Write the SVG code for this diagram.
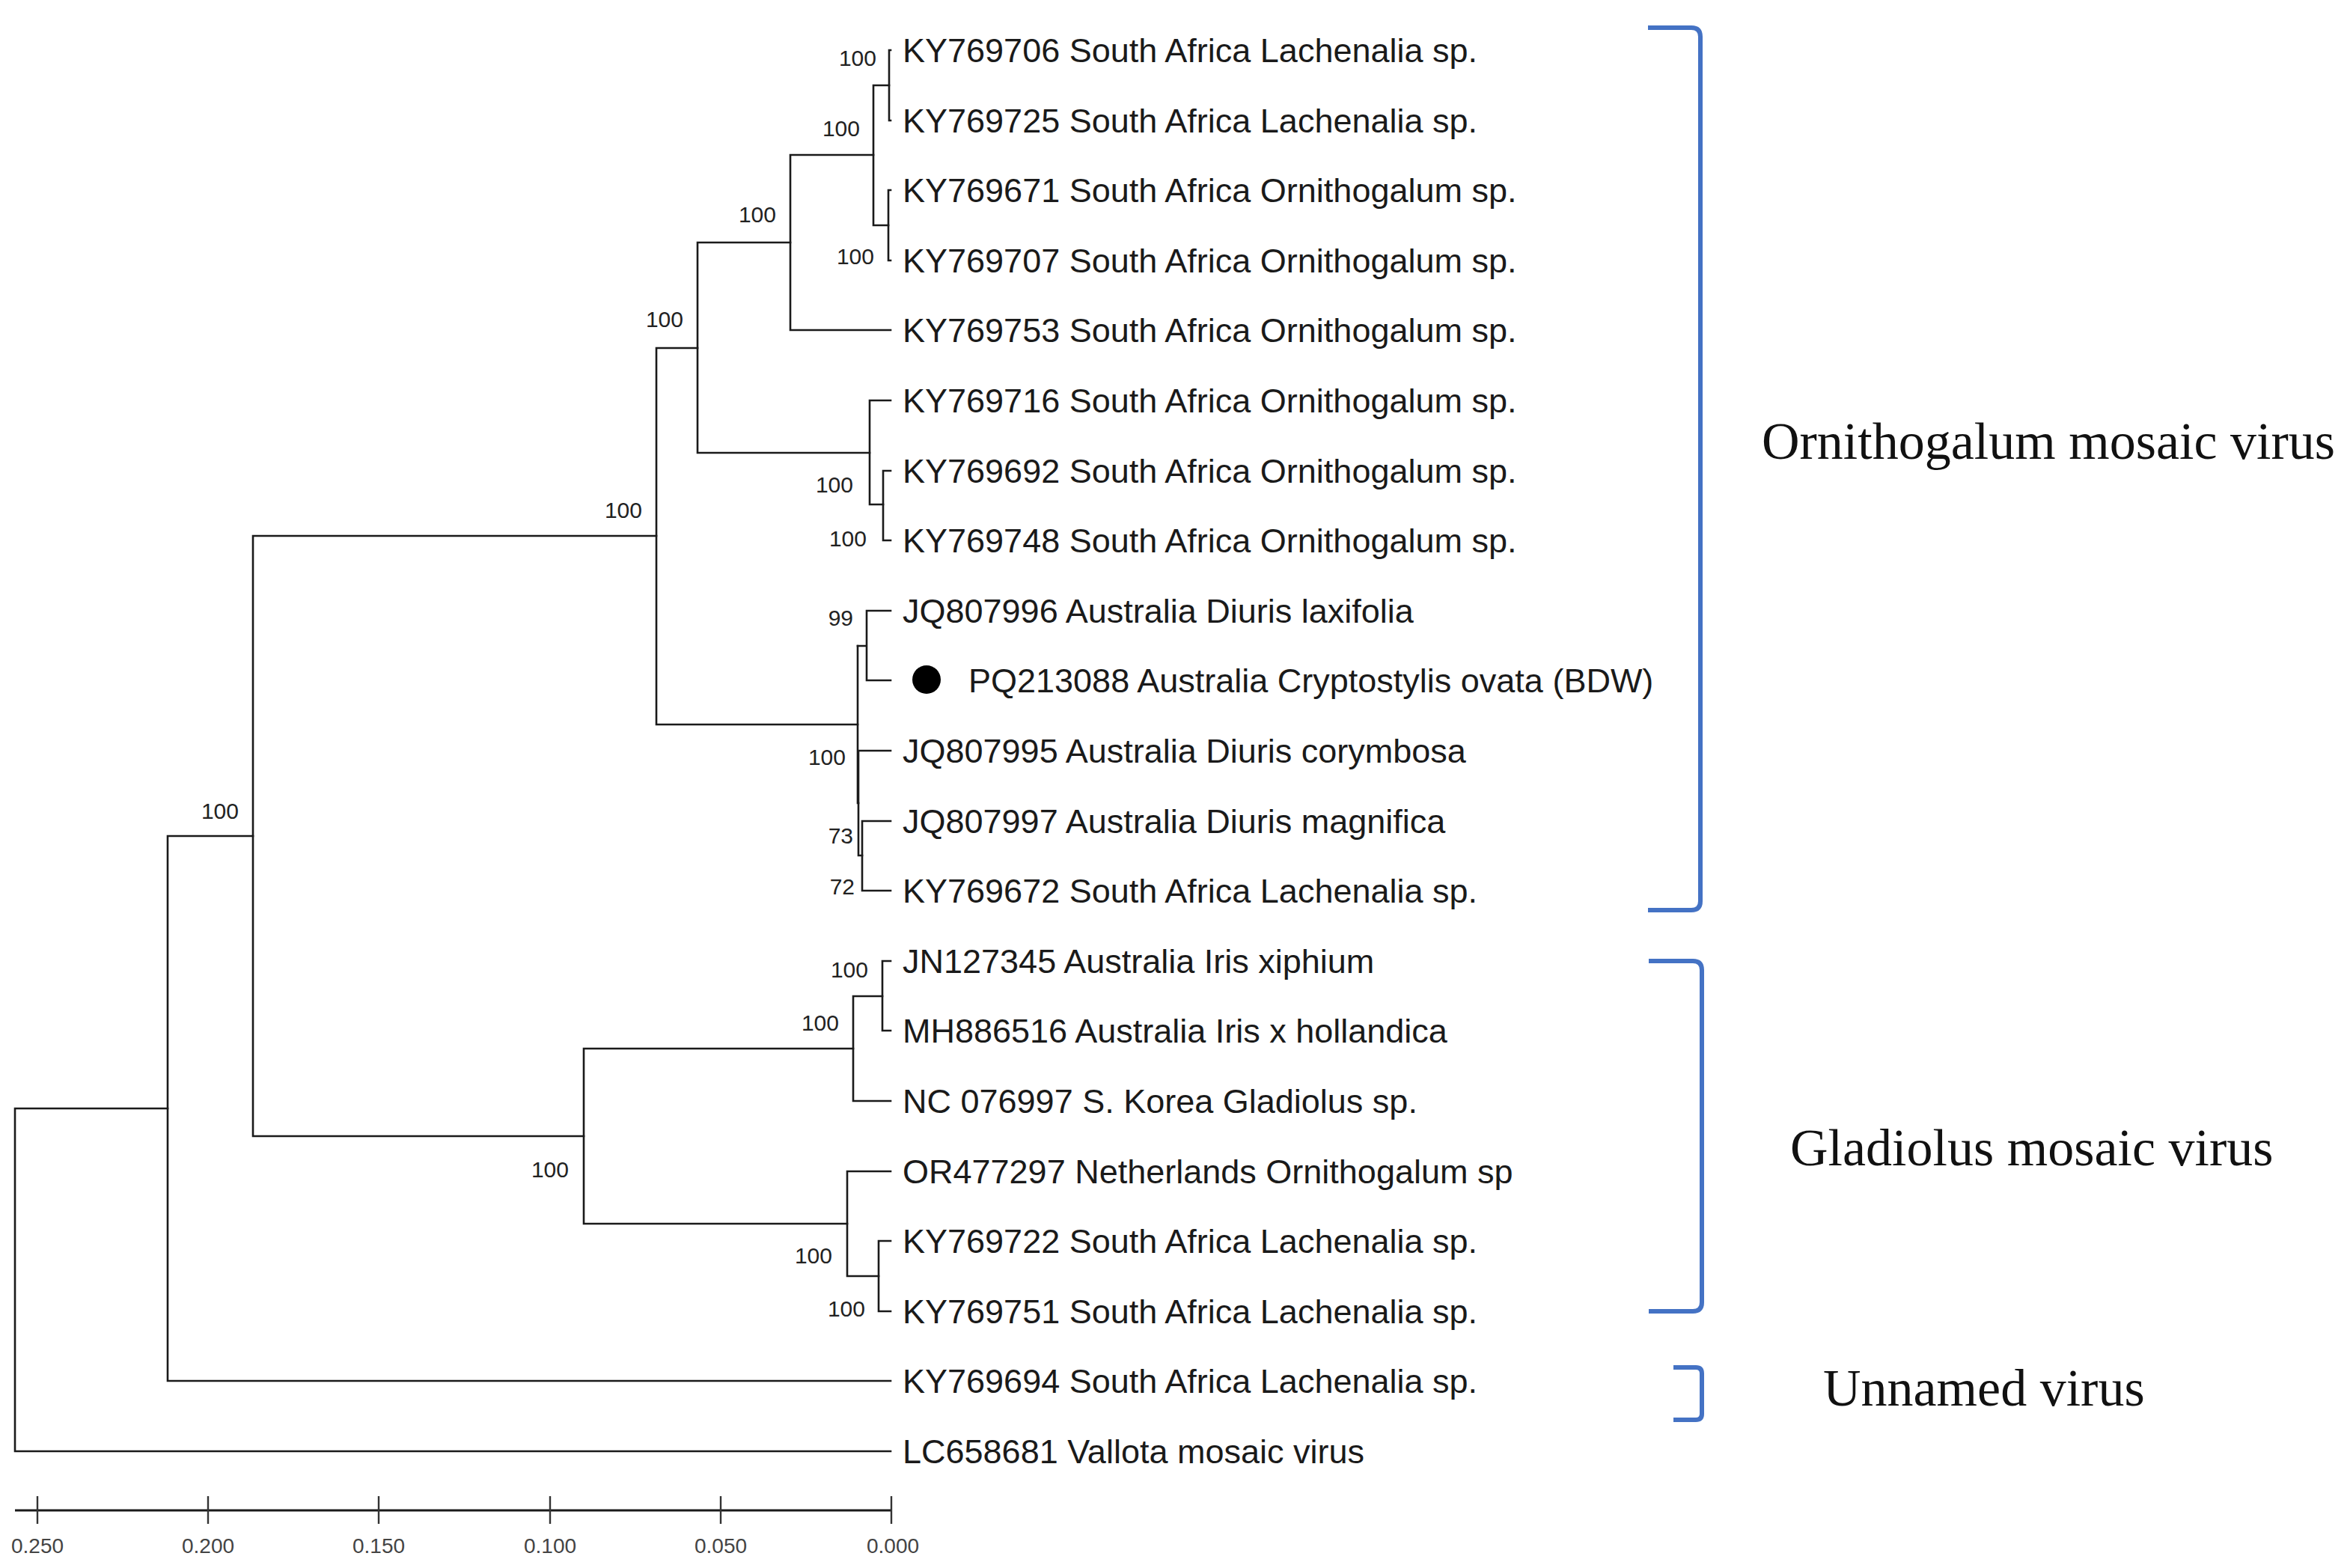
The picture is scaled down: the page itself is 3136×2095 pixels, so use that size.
<svg xmlns="http://www.w3.org/2000/svg" width="3136" height="2095" viewBox="0 0 3136 2095">
<style>
.br{fill:none;stroke:#1a1a1a;stroke-width:2.6;stroke-linecap:square}
.lf{font-family:"Liberation Sans",Arial,sans-serif;font-size:45px;fill:#1a1a1a}
.bs{font-family:"Liberation Sans",Arial,sans-serif;font-size:30px;fill:#222;text-anchor:end}
.ax{font-family:"Liberation Sans",Arial,sans-serif;font-size:28px;fill:#444;text-anchor:middle}
.bk{fill:none;stroke:#4472C4;stroke-width:6;stroke-linecap:butt}
.cl{font-family:"Liberation Serif","Times New Roman",serif;font-size:70px;fill:#111}
</style>
<rect width="3136" height="2095" fill="#fff"/>
<g id="connectors">
<path class="br" d="M20,1481V1939H1190M20,1481H224"/>
<path class="br" d="M224,1117V1845H1190M224,1117H338"/>
<path class="br" d="M338,716V1518H780M338,716H877"/>
<path class="br" d="M780,1401V1635H1132M780,1401H1140"/>
<path class="br" d="M1140,1331V1471H1190M1140,1331H1179"/>
<path class="br" d="M1179,1284V1377H1190M1179,1284H1190"/>
<path class="br" d="M1132,1565V1705H1174M1132,1565H1190"/>
<path class="br" d="M1174,1658V1752H1190M1174,1658H1190"/>
<path class="br" d="M877,465V968H1146M877,465H932"/>
<path class="br" d="M932,324V605H1162M932,324H1056"/>
<path class="br" d="M1056,207V441H1190M1056,207H1167"/>
<path class="br" d="M1167,114V301H1187M1167,114H1188"/>
<path class="br" d="M1188,67V161H1190M1188,67H1190"/>
<path class="br" d="M1187,254V348H1190M1187,254H1190"/>
<path class="br" d="M1162,535V674H1180M1162,535H1190"/>
<path class="br" d="M1180,629V722H1190M1180,629H1190"/>
<path class="br" d="M1146,863V1073H1147"/>
<path class="br" d="M1146,863H1158M1158,816V909H1190M1158,816H1190"/>
<path class="br" d="M1147,1003V1143H1152M1147,1003H1190"/>
<path class="br" d="M1152,1097V1190H1190M1152,1097H1190"/>
</g>
<g id="bootstrap">
<text class="bs" x="1171" y="88">100</text>
<text class="bs" x="1149" y="182">100</text>
<text class="bs" x="1037" y="297">100</text>
<text class="bs" x="1168" y="353">100</text>
<text class="bs" x="913" y="437">100</text>
<text class="bs" x="858" y="692">100</text>
<text class="bs" x="1140" y="658">100</text>
<text class="bs" x="1158" y="730">100</text>
<text class="bs" x="1140" y="836">99</text>
<text class="bs" x="1130" y="1022">100</text>
<text class="bs" x="1140" y="1127">73</text>
<text class="bs" x="1142" y="1195">72</text>
<text class="bs" x="1160" y="1306">100</text>
<text class="bs" x="1121" y="1377">100</text>
<text class="bs" x="760" y="1573">100</text>
<text class="bs" x="1112" y="1688">100</text>
<text class="bs" x="1156" y="1759">100</text>
<text class="bs" x="319" y="1094">100</text>
</g>
<g id="leaves">
<g id="n-KY769706"><text class="lf" x="1206" y="83">KY769706 South Africa Lachenalia sp.</text></g>
<g id="n-KY769725"><text class="lf" x="1206" y="177">KY769725 South Africa Lachenalia sp.</text></g>
<g id="n-KY769671"><text class="lf" x="1206" y="270">KY769671 South Africa Ornithogalum sp.</text></g>
<g id="n-KY769707"><text class="lf" x="1206" y="364">KY769707 South Africa Ornithogalum sp.</text></g>
<g id="n-KY769753"><text class="lf" x="1206" y="457">KY769753 South Africa Ornithogalum sp.</text></g>
<g id="n-KY769716"><text class="lf" x="1206" y="551">KY769716 South Africa Ornithogalum sp.</text></g>
<g id="n-KY769692"><text class="lf" x="1206" y="645">KY769692 South Africa Ornithogalum sp.</text></g>
<g id="n-KY769748"><text class="lf" x="1206" y="738">KY769748 South Africa Ornithogalum sp.</text></g>
<g id="n-JQ807996"><text class="lf" x="1206" y="832">JQ807996 Australia Diuris laxifolia</text></g>
<g id="n-PQ213088"><circle cx="1238" cy="908" r="19" fill="#000"/><text class="lf" x="1294" y="925">PQ213088 Australia Cryptostylis ovata (BDW)</text></g>
<g id="n-JQ807995"><text class="lf" x="1206" y="1019">JQ807995 Australia Diuris corymbosa</text></g>
<g id="n-JQ807997"><text class="lf" x="1206" y="1113">JQ807997 Australia Diuris magnifica</text></g>
<g id="n-KY769672"><text class="lf" x="1206" y="1206">KY769672 South Africa Lachenalia sp.</text></g>
<g id="n-JN127345"><text class="lf" x="1206" y="1300">JN127345 Australia Iris xiphium</text></g>
<g id="n-MH886516"><text class="lf" x="1206" y="1393">MH886516 Australia Iris x hollandica</text></g>
<g id="n-NC076997"><text class="lf" x="1206" y="1487">NC 076997 S. Korea Gladiolus sp.</text></g>
<g id="n-OR477297"><text class="lf" x="1206" y="1581">OR477297 Netherlands Ornithogalum sp</text></g>
<g id="n-KY769722"><text class="lf" x="1206" y="1674">KY769722 South Africa Lachenalia sp.</text></g>
<g id="n-KY769751"><text class="lf" x="1206" y="1768">KY769751 South Africa Lachenalia sp.</text></g>
<g id="n-KY769694"><text class="lf" x="1206" y="1861">KY769694 South Africa Lachenalia sp.</text></g>
<g id="n-LC658681"><text class="lf" x="1206" y="1955">LC658681 Vallota mosaic virus</text></g>
</g>
<g id="scale">
<path d="M20,2018H1191" stroke="#1a1a1a" stroke-width="3.2" fill="none"/>
<path d="M50,1999V2036M278,1999V2036M506,1999V2036M735,1999V2036M963,1999V2036M1191,1999V2036" stroke="#333" stroke-width="2.4" fill="none"/>
<text class="ax" x="50" y="2075">0.250</text>
<text class="ax" x="278" y="2075">0.200</text>
<text class="ax" x="506" y="2075">0.150</text>
<text class="ax" x="735" y="2075">0.100</text>
<text class="ax" x="963" y="2075">0.050</text>
<text class="ax" x="1193" y="2075">0.000</text>
</g>
<g id="clade-ornithogalum">
<path class="bk" d="M2202,37H2260Q2272,37 2272,49V1204Q2272,1216 2260,1216H2202"/>
<text class="cl" x="2354" y="613">Ornithogalum mosaic virus</text>
</g>
<g id="clade-gladiolus">
<path class="bk" d="M2203,1284H2262Q2274,1284 2274,1296V1740Q2274,1752 2262,1752H2203"/>
<text class="cl" x="2392" y="1557">Gladiolus mosaic virus</text>
</g>
<g id="clade-unnamed">
<path class="bk" d="M2236,1827H2266Q2274,1827 2274,1835V1889Q2274,1897 2266,1897H2236"/>
<text class="cl" x="2436" y="1878">Unnamed virus</text>
</g>
</svg>
